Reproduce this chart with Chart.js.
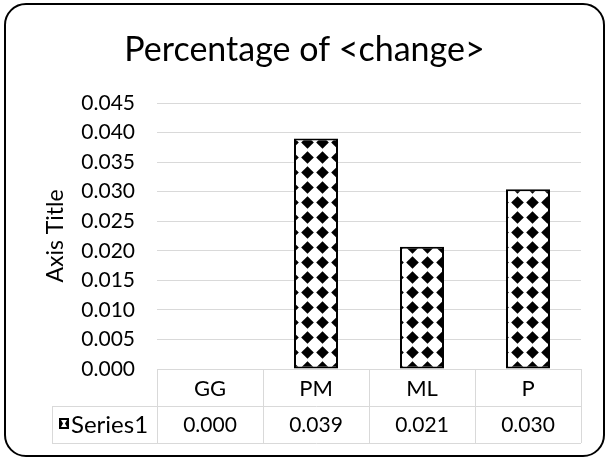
<!DOCTYPE html>
<html>
<head>
<meta charset="utf-8">
<script src="https://cdn.jsdelivr.net/npm/chart.js@4.4.1/dist/chart.umd.min.js"></script>
<style>
  html, body { margin: 0; padding: 0; background: #fff; }
  #wrap { position: relative; width: 605px; height: 458px; }
  #frame {
    position: absolute; left: 4px; top: 3px; width: 597px; height: 450px;
    border: 2px solid #000; border-radius: 22px; pointer-events: none;
  }
  canvas { position: absolute; left: 0; top: 0; }
</style>
</head>
<body>
<div id="wrap">
  <canvas id="chart" width="605" height="458"></canvas>
  <div id="frame"></div>
</div>
<script>
// data
const categories = ["GG", "PM", "ML", "P"];
const series1 = [0, 0.039, 0.0207, 0.0304];
const seriesName = "Series1";
const yMin = 0;
const yMax = 0.045;
const yStep = 0.005;

const FONT = "Lato, 'Open Sans', sans-serif";
const gridColor = "#d9d9d9";

// diamond pattern like the Excel fill
function makePattern() {
  const t = document.createElement("canvas");
  t.width = 15;
  t.height = 15;
  const c = t.getContext("2d");
  c.fillStyle = "#fff";
  c.fillRect(0, 0, 15, 15);
  c.fillStyle = "#000";
  c.beginPath();
  c.moveTo(7.5, 1.2);
  c.lineTo(13.8, 7.5);
  c.lineTo(7.5, 13.8);
  c.lineTo(1.2, 7.5);
  c.closePath();
  c.fill();
  return c.createPattern(t, "repeat");
}

const ctx = document.getElementById("chart").getContext("2d");
const pattern = makePattern();

// title + data table under the plot
const tablePlugin = {
  id: "dataTable",
  afterDraw(chart) {
    const c = chart.ctx;
    const x = chart.scales.x;
    const area = chart.chartArea;
    const colW = (area.right - area.left) / categories.length;
    const rowTop = area.bottom;
    const rowMid = rowTop + 37;
    const rowBot = rowMid + 37;
    const headLeft = 52;

    c.save();
    // title
    c.fillStyle = "#000";
    c.font = "34px " + FONT;
    c.textAlign = "center";
    c.textBaseline = "middle";
    c.fillText("Percentage of <change>", chart.width / 2 + 2, 50);

    // grid of the table
    c.strokeStyle = gridColor;
    c.lineWidth = 1;
    c.beginPath();
    c.moveTo(headLeft, rowMid + 0.5);
    c.lineTo(area.right, rowMid + 0.5);
    c.moveTo(headLeft, rowBot + 0.5);
    c.lineTo(area.right, rowBot + 0.5);
    c.moveTo(headLeft + 0.5, rowMid);
    c.lineTo(headLeft + 0.5, rowBot);
    for (let i = 0; i <= categories.length; i++) {
      const lx = Math.round(area.left + i * colW) + 0.5;
      c.moveTo(lx, rowTop);
      c.lineTo(lx, rowBot);
    }
    c.stroke();

    // texts
    c.fillStyle = "#000";
    c.textAlign = "center";
    categories.forEach((cat, i) => {
      const cx = x.getPixelForValue(i);
      c.font = "22px " + FONT;
      c.fillText(cat, cx, (rowTop + rowMid) / 2 + 1);
      c.font = "21px " + FONT;
      c.fillText(series1[i].toFixed(3), cx, (rowMid + rowBot) / 2 + 1);
    });

    // legend key + series name
    const kx = 59, ky = rowMid + 12;
    c.fillStyle = "#000";
    c.fillRect(kx, ky, 10, 11);
    c.fillStyle = "#fff";
    c.beginPath();
    c.moveTo(kx + 2, ky + 2);
    c.lineTo(kx + 8, ky + 2);
    c.lineTo(kx + 6, ky + 5.5);
    c.lineTo(kx + 8, ky + 9);
    c.lineTo(kx + 2, ky + 9);
    c.lineTo(kx + 4, ky + 5.5);
    c.closePath();
    c.fill();
    c.fillStyle = "#000";
    c.textAlign = "left";
    c.font = "24px " + FONT;
    c.fillText(seriesName, 71, (rowMid + rowBot) / 2 + 1);
    c.restore();
  },
};

new Chart(ctx, {
  type: "bar",
  data: {
    labels: categories,
    datasets: [
      {
        label: seriesName,
        data: series1,
        backgroundColor: pattern,
        borderColor: "#000",
        borderWidth: 2,
        borderSkipped: false,
        barPercentage: 0.415,
        categoryPercentage: 1,
      },
    ],
  },
  options: {
    responsive: false,
    animation: false,
    layout: { padding: { top: 103, right: 24, bottom: 89, left: 0 } },
    plugins: {
      legend: { display: false },
      tooltip: { enabled: false },
      title: { display: false },
    },
    scales: {
      x: {
        ticks: { display: false },
        grid: { display: false, drawTicks: false },
        border: { display: false },
        afterFit(scale) {
          scale.height = 0;
        },
      },
      y: {
        min: yMin,
        max: yMax,
        ticks: {
          stepSize: yStep,
          padding: 22,
          color: "#000",
          font: { family: FONT, size: 21 },
          callback: (v) => Number(v).toFixed(3),
        },
        grid: { color: gridColor, drawTicks: false },
        border: { display: false },
        title: {
          display: true,
          text: "Axis Title",
          color: "#000",
          font: { family: FONT, size: 23 },
          padding: { top: 42, bottom: 0 },
        },
        afterFit(scale) {
          scale.width = 157;
        },
      },
    },
  },
  plugins: [tablePlugin],
});
</script>
</body>
</html>
